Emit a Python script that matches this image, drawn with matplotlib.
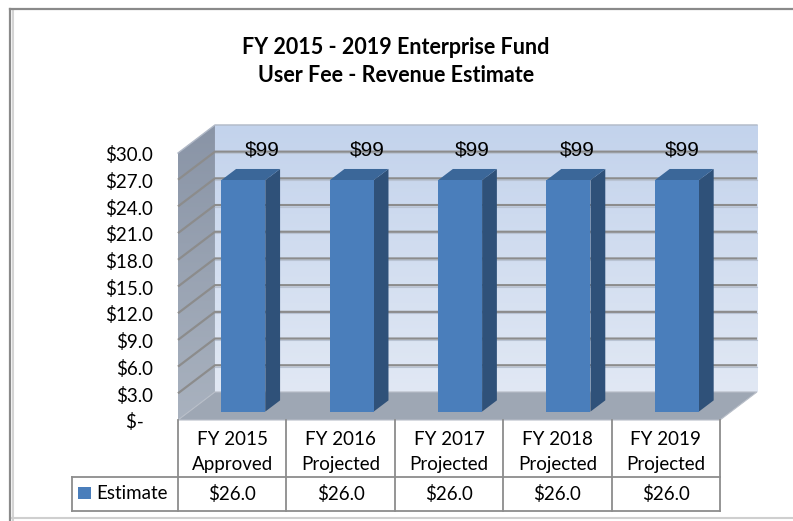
import matplotlib
matplotlib.use("Agg")
import matplotlib.pyplot as plt
import numpy as np
from matplotlib.colors import LinearSegmentedColormap
from matplotlib.patches import Polygon, Rectangle
from matplotlib.lines import Line2D

# data
categories = ["FY 2015\nApproved", "FY 2016\nProjected", "FY 2017\nProjected",
              "FY 2018\nProjected", "FY 2019\nProjected"]
estimate = [26.0, 26.0, 26.0, 26.0, 26.0]
top_labels = ["$99", "$99", "$99", "$99", "$99"]
y_ticks = [0, 3, 6, 9, 12, 15, 18, 21, 24, 27, 30]
series_name = "Estimate"

# colours
BAR_FRONT = "#4a7ebb"
BAR_SIDE = "#2f5179"
BAR_TOP = "#3b6799"
GRID = "#8c8c8c"
FLOOR = "#9ea7b4"
TABLE_LINE = "#8c8c8c"
TEXT_FONT = ["Lato", "DejaVu Sans"]

W, H = 793, 521
# oblique projection (data units)
DX, DY = 0.341, 3.15       # full depth offset of the plot box
D0, BD = 0.30, 0.40        # bar front depth, bar depth (fractions of full depth)
BAR_W = 0.406
YMAX = 30

fig = plt.figure(figsize=(W / 100, H / 100), dpi=100)
fig.patch.set_facecolor("white")
ax = fig.add_axes([0, 0, 1, 1])
# pixel mapping: x=0 -> 232.2px (108.4 px/category), y=0 -> 420px from top (8.9 px/unit)
ax.set_xlim(-232.2 / 108.4, (W - 232.2) / 108.4)
ax.set_ylim(-(H - 420) / 8.9, 420 / 8.9)
ax.axis("off")

x0, x1 = -0.5, len(categories) - 0.5

# back wall with gradient (light at bottom, bluer at top)
grad = np.linspace(0, 1, 256).reshape(-1, 1)
ax.imshow(grad, cmap=LinearSegmentedColormap.from_list("bw", ["#e1e8f4", "#c3d3ec"]),
          extent=[x0 + DX, x1 + DX, DY, YMAX + DY], origin="lower",
          aspect="auto", zorder=1)

# side wall
side_poly = Polygon([(x0, 0), (x0 + DX, DY), (x0 + DX, YMAX + DY), (x0, YMAX)],
                    closed=True, facecolor="none", edgecolor="none")
ax.add_patch(side_poly)
side = ax.imshow(grad, cmap=LinearSegmentedColormap.from_list("sw", ["#a9b2bf", "#8994a6"]),
                 extent=[x0, x0 + DX, 0, YMAX + DY], origin="lower",
                 aspect="auto", zorder=1)
side.set_clip_path(side_poly)

# floor
ax.add_patch(Polygon([(x0, 0), (x1, 0), (x1 + DX, DY), (x0 + DX, DY)],
                     closed=True, facecolor=FLOOR, edgecolor="#b8bec8",
                     lw=0.8, zorder=2))

# gridlines on walls
for v in y_ticks[1:-1]:
    ax.plot([x0, x0 + DX, x1 + DX], [v, v + DY, v + DY], color=GRID,
            lw=1.6, zorder=2, solid_capstyle="butt")
    ax.plot([x0 + DX, x1 + DX], [v + DY - 0.18, v + DY - 0.18],
            color="#b9c3d3", lw=0.8, zorder=2)
ax.plot([x0, x0 + DX, x1 + DX], [YMAX, YMAX + DY, YMAX + DY],
        color="#b0b8c6", lw=1.0, zorder=2)

# bars
for i, v in enumerate(estimate):
    bx0 = i - BAR_W / 2 + D0 * DX
    bx1 = bx0 + BAR_W
    by0 = D0 * DY
    by1 = v + D0 * DY
    ox, oy = BD * DX, BD * DY
    ax.add_patch(Polygon([(bx1, by0), (bx1 + ox, by0 + oy), (bx1 + ox, by1 + oy),
                          (bx1, by1)], closed=True, facecolor=BAR_SIDE,
                         edgecolor="none", zorder=3))
    ax.add_patch(Polygon([(bx0, by1), (bx1, by1), (bx1 + ox, by1 + oy),
                          (bx0 + ox, by1 + oy)], closed=True, facecolor=BAR_TOP,
                         edgecolor="none", zorder=3))
    ax.add_patch(Rectangle((bx0, by0), BAR_W, v, facecolor=BAR_FRONT,
                           edgecolor="none", zorder=3))
    ax.text(i * 0.97 + 0.275, YMAX + 0.35, top_labels[i], fontsize=15,
            family="Liberation Sans", ha="center", va="center", zorder=5)

# y tick labels
for v in y_ticks:
    lab = "$-  " if v == 0 else f"${v:.1f}"
    ax.text(-0.73, v - 0.25, lab, fontsize=13.5, family=TEXT_FONT,
            ha="right", va="center", zorder=5)

# data table
row1, row2 = -6.4, -10.2
leg_x = -1.478
tl = dict(color=TABLE_LINE, lw=1.3, zorder=4, solid_capstyle="projecting")
for k in range(len(categories) + 1):
    ax.plot([x0 + k, x0 + k], [0, row2], **tl)
ax.plot([x0, x1], [row1, row1], **tl)
ax.plot([leg_x, x1], [row2, row2], **tl)
ax.plot([leg_x, x0], [row1, row1], **tl)
ax.plot([leg_x, leg_x], [row1, row2], **tl)
for i, cat in enumerate(categories):
    l1, l2 = cat.split("\n")
    ax.text(i, -2.15, l1, fontsize=13.5, family=TEXT_FONT, ha="center",
            va="center", zorder=5)
    ax.text(i, -5.05, l2, fontsize=13.5, family=TEXT_FONT, ha="center",
            va="center", zorder=5)
    ax.text(i, -8.3, f"${estimate[i]:.1f}", fontsize=13.5, family=TEXT_FONT,
            ha="center", va="center", zorder=5)
ax.add_patch(Rectangle((-1.42, -8.9), 0.12, 1.35, facecolor=BAR_FRONT,
                       edgecolor="none", zorder=5))
ax.text(-1.256, -8.25, series_name, fontsize=13.5, family=TEXT_FONT,
        ha="left", va="center", zorder=5)

# title
fig.text(396 / W, 1 - 47 / H, "FY 2015 - 2019 Enterprise Fund", fontsize=15.5,
         fontweight="bold", family=TEXT_FONT, ha="center", va="center")
fig.text(396 / W, 1 - 76 / H, "User Fee - Revenue Estimate", fontsize=15.5,
         fontweight="bold", family=TEXT_FONT, ha="center", va="center")

# chart frame
fig.add_artist(Line2D([10 / W, 10 / W], [0, 1 - 9 / H], transform=fig.transFigure,
                      color="#8a8a8a", lw=1.6))
fig.add_artist(Line2D([12.5 / W, 12.5 / W], [0, 1 - 11 / H], transform=fig.transFigure,
                      color="#d4d4d4", lw=1.5))
fig.add_artist(Line2D([10 / W, 1], [1 - 9 / H, 1 - 9 / H], transform=fig.transFigure,
                      color="#8a8a8a", lw=1.6))
fig.add_artist(Line2D([12 / W, 1], [1 - 518 / H, 1 - 518 / H], transform=fig.transFigure,
                      color="#cfcfcf", lw=1.5))

fig.savefig("out.png", dpi=100)
